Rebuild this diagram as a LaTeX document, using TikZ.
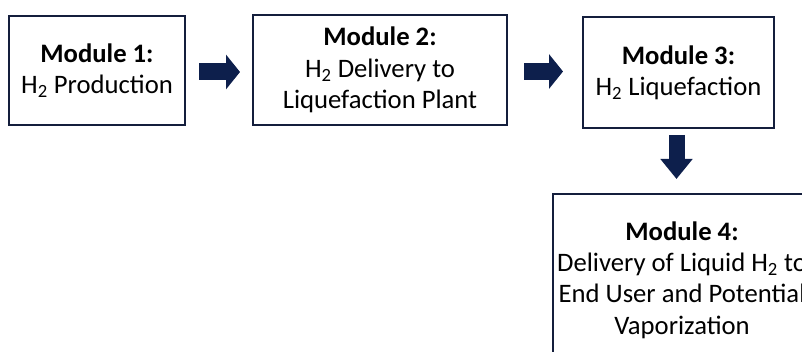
\documentclass[tikz,border=0pt]{standalone}
\usepackage{fontspec}
\setmainfont{Carlito}
\usetikzlibrary{arrows.meta}
\definecolor{navy}{RGB}{13,31,76}
\definecolor{boxline}{RGB}{20,30,60}
\begin{document}
\begin{tikzpicture}[x=0.75pt,y=-0.75pt,
  modbox/.style={draw=boxline,line width=1.5pt,fill=white,inner sep=0pt,align=center,
    font=\fontsize{20pt}{23.5pt}\selectfont},
  bigarrow/.style={draw=navy,line width=12.75pt,
    -{Triangle[length=10.5pt,width=25.5pt,fill=navy]}}]
\useasboundingbox (0,0) rectangle (802,352);
\clip (0,0) rectangle (802,352);
\fill[white] (0,0) rectangle (802,352);
\node[modbox,minimum width=132pt,minimum height=81.75pt] (m1) at (97,70.5)
  {\textbf{Module 1:}\\H\textsubscript{2} Production};
\node[modbox,minimum width=190.5pt,minimum height=82.5pt] (m2) at (380,70)
  {\textbf{Module 2:}\\H\textsubscript{2} Delivery to\\Liquefaction Plant};
\node[modbox,minimum width=143.25pt,minimum height=83.25pt] (m3) at (678.5,72.5)
  {\textbf{Module 3:}\\H\textsubscript{2} Liquefaction};
\node[modbox,minimum width=193.5pt,minimum height=129pt] (m4) at (682,280)
  {\textbf{Module 4:}\\Delivery of Liquid H\textsubscript{2} to\\End User and Potential\\Vaporization};
\draw[bigarrow,shorten <=9.75pt,shorten >=9pt] (m1.east |- 0,72) -- (m2.west |- 0,72);
\draw[bigarrow,shorten <=12pt,shorten >=14.25pt] (m2.east |- 0,71.5) -- (m3.west |- 0,71.5);
\draw[draw=navy,line width=12pt,-{Triangle[length=15pt,width=23.25pt,fill=navy]},
  shorten <=4.5pt,shorten >=10.5pt] (676.5,0 |- m3.south) -- (676.5,0 |- m4.north);
\end{tikzpicture}
\end{document}
